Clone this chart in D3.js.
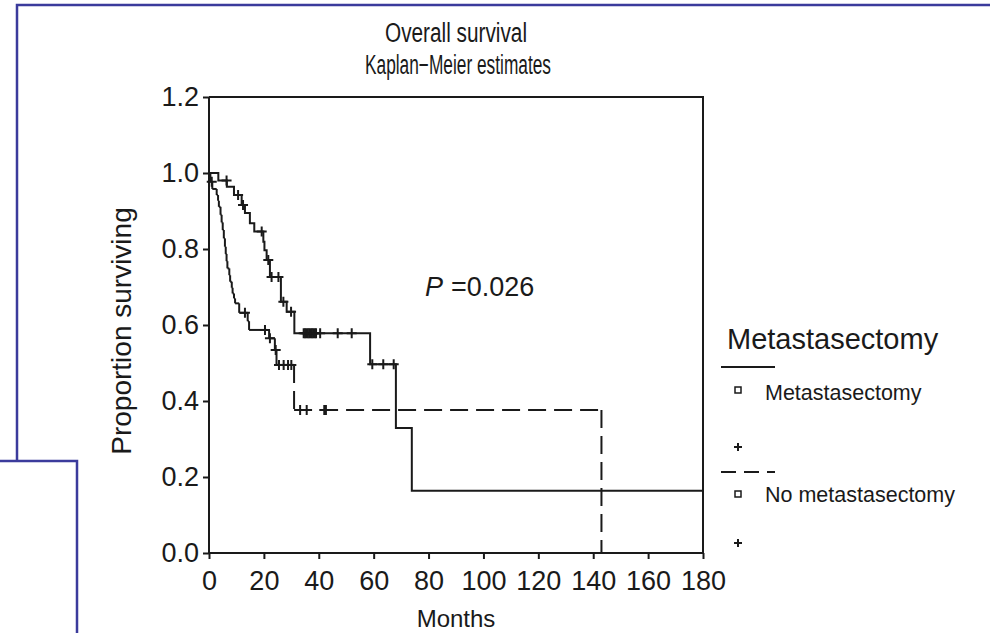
<!DOCTYPE html>
<html lang="en">
<head>
    <meta charset="utf-8">
    <title>Overall survival</title>
    <script type="text/javascript" src="https://cdnjs.cloudflare.com/ajax/libs/d3/7.8.5/d3.min.js"></script>
	<style>
	body { margin: 0; background: #fff; }
	svg text { font-family: "Liberation Sans", Arial, Helvetica, sans-serif; fill: #1a1a1a; }
	.axis path, .axis line { stroke: #1a1a1a; stroke-width: 2px; }
	.axis text { font-size: 27px; }
	.title { font-size: 27px; }
	</style>
</head>
<body>
    <script type="text/javascript">
      // tick labels
      var monthTicks = [0, 20, 40, 60, 80, 100, 120, 140, 160, 180];
      var propTicks = [0.0, 0.2, 0.4, 0.6, 0.8, 1.0, 1.2];

      // metastasectomy: times where the curve steps, and value after the step
      var metTimes = [0, 3.4, 6.5, 9.1, 11.9, 13.1, 14.9, 16.5, 19.8, 20.2, 21.0, 22.2, 26.2, 28.3, 31.1, 58.7, 68.1, 73.9];
      var metSurv  = [1.0, 0.980, 0.964, 0.942, 0.916, 0.895, 0.868, 0.846, 0.819, 0.797, 0.771, 0.726, 0.661, 0.635, 0.578, 0.497, 0.329, 0.164];
      var metCensor = [6.4, 10.6, 12.4, 19.2, 21.6, 22.8, 25.3, 27.1, 29.9,
                       34.5, 35.0, 35.5, 36.0, 36.5, 37.0, 37.5, 38.0, 38.5, 39.0,
                       40.5, 46.9, 52.0, 59.5, 63.5, 67.3];
      var metEnd = 180;

      // no metastasectomy
      var noTimes = [0, 0.5, 1.2, 2.8, 3.3, 3.6, 4.2, 4.6, 5.0, 5.4, 5.8, 6.1, 6.4, 6.7, 7.4, 7.7, 8.3, 8.6, 9.1, 9.5,
                     11.0, 14.1, 14.6, 21.9, 24.0, 24.6, 31.0, 143];
      var noSurv  = [1.0, 0.977, 0.958, 0.942, 0.927, 0.911, 0.890, 0.870, 0.850, 0.828, 0.806, 0.787, 0.768, 0.749, 0.731, 0.714, 0.698, 0.683, 0.670, 0.657,
                     0.632, 0.610, 0.587, 0.565, 0.534, 0.495, 0.376, 0.0];
      var noCensor = [1.0, 13.1, 20.4, 22.2, 24.3, 25.5, 27.2, 28.8, 30.0, 33.2, 35.6, 42.0, 42.6];

      var groupNames = ["Metastasectomy", "No metastasectomy"];

      var width = 990, height = 633;
      var margin = {top: 97, right: 287, bottom: 80, left: 209};

      var svg = d3.select("body").append("svg")
      .attr("width", width)
      .attr("height", height);

      // outer frame pieces from the page
      var frame = "#3b3b9c";
      svg.append("path")
      .attr("d", "M17,461 L17,5 L990,5")
      .attr("fill", "none").attr("stroke", frame).attr("stroke-width", 2.5);
      svg.append("path")
      .attr("d", "M0,461 L77,461 L77,640")
      .attr("fill", "none").attr("stroke", frame).attr("stroke-width", 2.5);

      var x = d3.scaleLinear().domain([0, 180]).range([margin.left, width - margin.right]);
      var y = d3.scaleLinear().domain([0, 1.2]).range([height - margin.bottom, margin.top]);

      // plot box (top and right)
      svg.append("path")
      .attr("d", "M" + x(0) + "," + y(1.2) + " L" + x(180) + "," + y(1.2) + " L" + x(180) + "," + y(0))
      .attr("fill", "none").attr("stroke", "#1a1a1a").attr("stroke-width", 2);

      svg.append("g")
      .attr("class", "axis")
      .attr("transform", "translate(0," + y(0) + ")")
      .call(d3.axisBottom(x).tickValues(monthTicks).tickSize(6).tickPadding(12).tickFormat(d3.format("d")))
      .call(function(g) { g.select(".domain").attr("d", "M" + x(0) + ",0H" + x(180)); });

      svg.append("g")
      .attr("class", "axis")
      .attr("transform", "translate(" + x(0) + ",0)")
      .call(d3.axisLeft(y).tickValues(propTicks).tickSize(6).tickPadding(4).tickFormat(d3.format(".1f")))
      .call(function(g) { g.select(".domain").attr("d", "M0," + y(0) + "V" + y(1.2)); });

      svg.selectAll(".axis text").attr("fill", "#1a1a1a");

      // step helper
      function stepValue(times, surv, t) {
        var i = d3.bisectRight(times, t) - 1;
        return surv[Math.max(i, 0)];
      }

      // solid curve
      var metPts = metTimes.map(function(t, i) { return [t, metSurv[i]]; });
      metPts.push([metEnd, metSurv[metSurv.length - 1]]);
      svg.append("path")
      .datum(metPts)
      .attr("fill", "none")
      .attr("stroke", "#1a1a1a")
      .attr("stroke-width", 2)
      .attr("d", d3.line().x(function(d) { return x(d[0]); }).y(function(d) { return y(d[1]); }).curve(d3.curveStepAfter));

      // dashed curve, each segment drawn on its own so the dash pattern restarts
      var segs = [];
      for (var i = 0; i < noTimes.length; i++) {
        if (i > 0) segs.push([noTimes[i], noSurv[i - 1], noTimes[i], noSurv[i]]);
        if (i < noTimes.length - 1) segs.push([noTimes[i], noSurv[i], noTimes[i + 1], noSurv[i]]);
      }
      svg.append("g").selectAll("line")
      .data(segs)
      .enter().append("line")
      .attr("x1", function(d) { return x(d[0]); })
      .attr("y1", function(d) { return y(d[1]); })
      .attr("x2", function(d) { return x(d[2]); })
      .attr("y2", function(d) { return y(d[3]); })
      .attr("stroke", "#1a1a1a")
      .attr("stroke-width", 2)
      .attr("stroke-dasharray", "18,8");

      // censor marks
      function plus(g, cx, cy, r) {
        g.append("path")
        .attr("d", "M" + (cx - r) + "," + cy + "H" + (cx + r) + "M" + cx + "," + (cy - r) + "V" + (cy + r))
        .attr("stroke", "#1a1a1a").attr("stroke-width", 2).attr("fill", "none");
      }
      var cens = svg.append("g");
      metCensor.forEach(function(t) { plus(cens, x(t), y(stepValue(metTimes, metSurv, t)), 5); });
      noCensor.forEach(function(t) { plus(cens, x(t), y(stepValue(noTimes, noSurv, t)), 5); });

      // titles (narrow face, squeezed to the reference width)
      svg.append("text").attr("class", "title").attr("x", 456).attr("y", 42)
      .attr("text-anchor", "middle")
      .attr("textLength", 142).attr("lengthAdjust", "spacingAndGlyphs")
      .text("Overall survival");
      svg.append("text").attr("class", "title").attr("x", 458).attr("y", 74)
      .attr("text-anchor", "middle")
      .attr("textLength", 186).attr("lengthAdjust", "spacingAndGlyphs")
      .text("Kaplan\u2212Meier estimates");

      svg.append("text")
      .attr("transform", "translate(131,331) rotate(-90)")
      .attr("text-anchor", "middle")
      .style("font-size", "28px")
      .text("Proportion surviving");

      svg.append("text")
      .attr("x", 456).attr("y", 627)
      .attr("text-anchor", "middle")
      .style("font-size", "24px")
      .text("Months");

      var pt = svg.append("text").attr("x", 425).attr("y", 296).style("font-size", "27px");
      pt.append("tspan").style("font-style", "italic").text("P");
      pt.append("tspan").attr("dx", 8).text("=0.026");

      // legend
      var lg = svg.append("g");
      lg.append("text").attr("x", 727).attr("y", 349).style("font-size", "29px").text("Metastasectomy");
      var rows = [{y: 367, dash: null, sq: 390, txt: 400, cross: 447},
                  {y: 472, dash: "15,8", sq: 494, txt: 502, cross: 543}];
      rows.forEach(function(r, i) {
        lg.append("line").attr("x1", 721).attr("x2", 775).attr("y1", r.y).attr("y2", r.y)
        .attr("stroke", "#1a1a1a").attr("stroke-width", 2)
        .attr("stroke-dasharray", r.dash);
        lg.append("rect").attr("x", 735).attr("y", r.sq - 3).attr("width", 6).attr("height", 6)
        .attr("fill", "none").attr("stroke", "#1a1a1a").attr("stroke-width", 1.5);
        lg.append("text").attr("x", 765).attr("y", r.txt).style("font-size", "21.5px").text(groupNames[i]);
        plus(lg, 738, r.cross, 4);
      });
    </script>
</body>
</html>
